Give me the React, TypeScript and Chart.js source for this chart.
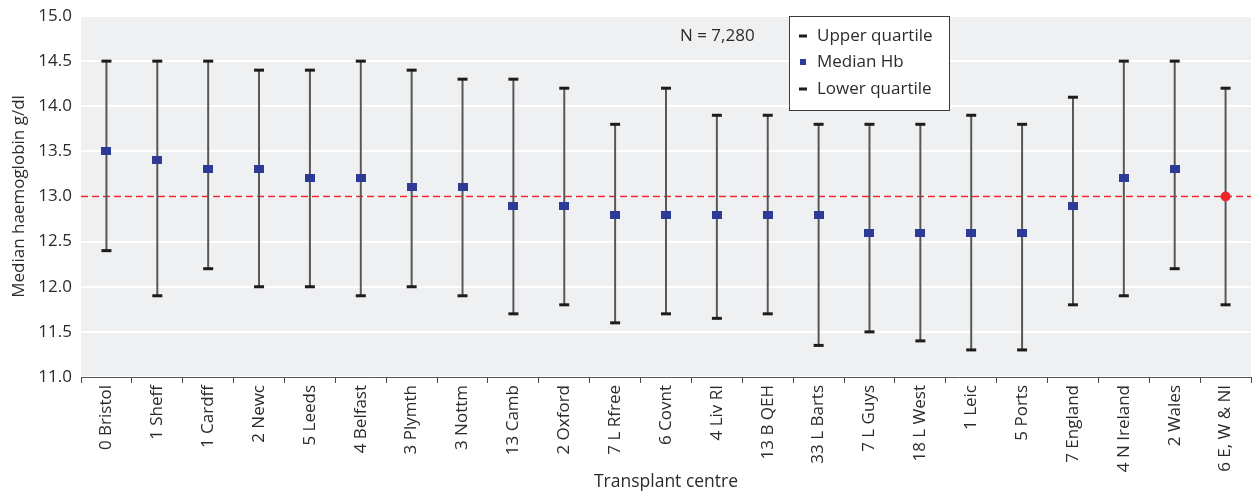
import React, { useEffect, useRef } from "react";
import { Chart, registerables } from "chart.js";

Chart.register(...registerables);

const centres = [
  "0 Bristol", "1 Sheff", "1 Cardff", "2 Newc", "5 Leeds", "4 Belfast", "3 Plymth", "3 Nottm",
  "13 Camb", "2 Oxford", "7 L Rfree", "6 Covnt", "4 Liv RI", "13 B QEH", "33 L Barts", "7 L Guys",
  "18 L West", "1 Leic", "5 Ports", "7 England", "4 N Ireland", "2 Wales", "6 E, W & NI",
];
const upperQuartile = [
  14.5, 14.5, 14.5, 14.4, 14.4, 14.5, 14.4, 14.3, 14.3, 14.2, 13.8, 14.2, 13.9, 13.9, 13.8, 13.8,
  13.8, 13.9, 13.8, 14.1, 14.5, 14.5, 14.2,
];
const medianHb = [
  13.5, 13.4, 13.3, 13.3, 13.2, 13.2, 13.1, 13.1, 12.9, 12.9, 12.8, 12.8, 12.8, 12.8, 12.8, 12.6,
  12.6, 12.6, 12.6, 12.9, 13.2, 13.3, 13.0,
];
const lowerQuartile = [
  12.4, 11.9, 12.2, 12.0, 12.0, 11.9, 12.0, 11.9, 11.7, 11.8, 11.6, 11.7, 11.65, 11.7, 11.35, 11.5,
  11.4, 11.3, 11.3, 11.8, 11.9, 12.2, 11.8,
];
const referenceHb = 13.0;
const yTicks = [11.0, 11.5, 12.0, 12.5, 13.0, 13.5, 14.0, 14.5, 15.0];
const nLabel = "N = 7,280";
const legendLabels = ["Upper quartile", "Median Hb", "Lower quartile"];

const FONT = "'Open Sans', 'DejaVu Sans', sans-serif";
const TEXT = "#2b2b2b";
const BLUE = "#2e3b96";
const RED = "#f0222a";
const CAP = "#1c1c1c";

export default function App() {
  const ref = useRef<HTMLCanvasElement | null>(null);

  useEffect(() => {
    const canvas = ref.current;
    if (!canvas) return;

    const marker = document.createElement("canvas");
    marker.width = 10;
    marker.height = 8;
    const mctx = marker.getContext("2d")!;
    mctx.fillStyle = BLUE;
    mctx.fillRect(0, 0, 10, 8);

    const last = centres.length - 1;
    const medianMain = medianHb.map((v, i) => (i === last ? null : v));
    const medianTotal = medianHb.map((v, i) => (i === last ? v : null));
    const ranges = centres.map((_, i) => [lowerQuartile[i], upperQuartile[i]]);

    const bgPlugin = {
      id: "bg",
      beforeDraw(chart: any) {
        const { ctx, chartArea } = chart;
        ctx.save();
        ctx.fillStyle = "#eff0f2";
        ctx.fillRect(chartArea.left, chartArea.top, chartArea.right - chartArea.left, chartArea.bottom - chartArea.top);
        ctx.restore();
      },
      beforeDatasetsDraw(chart: any) {
        const { ctx, chartArea, scales } = chart;
        const y = scales.y.getPixelForValue(referenceHb);
        ctx.save();
        ctx.strokeStyle = RED;
        ctx.lineWidth = 1.5;
        ctx.setLineDash([7, 4]);
        ctx.beginPath();
        ctx.moveTo(chartArea.left, y);
        ctx.lineTo(chartArea.right, y);
        ctx.stroke();
        ctx.restore();
      },
      afterDraw(chart: any) {
        const { ctx } = chart;
        ctx.save();
        ctx.font = `17px ${FONT}`;
        ctx.fillStyle = TEXT;
        ctx.textBaseline = "middle";
        ctx.textAlign = "left";
        ctx.fillText(nLabel, 680, 36);
        // legend box
        const bx = 789.5, by = 16.5, bw = 160, bh = 94;
        ctx.fillStyle = "#ffffff";
        ctx.fillRect(bx, by, bw, bh);
        ctx.strokeStyle = "#3a3a3a";
        ctx.lineWidth = 1;
        ctx.strokeRect(bx, by, bw, bh);
        const rows = [36, 62, 89];
        rows.forEach((ry, i) => {
          if (i === 1) {
            ctx.fillStyle = BLUE;
            ctx.fillRect(800, ry - 3, 6, 6);
          } else {
            ctx.fillStyle = CAP;
            ctx.fillRect(799, ry - 1.5, 8, 3);
          }
          ctx.fillStyle = TEXT;
          ctx.fillText(legendLabels[i], 817, ry);
        });
        ctx.restore();
      },
    };

    const chart = new Chart(canvas, {
      type: "bar",
      data: {
        labels: centres,
        datasets: [
          {
            type: "bar",
            label: "Interquartile range",
            data: ranges as any,
            backgroundColor: "#555555",
            barThickness: 1.3,
            order: 5,
          },
          {
            type: "line",
            label: legendLabels[0],
            data: upperQuartile,
            showLine: false,
            pointStyle: "line",
            pointRadius: 5,
            pointBorderWidth: 3,
            borderColor: CAP,
            backgroundColor: CAP,
            order: 4,
          },
          {
            type: "line",
            label: legendLabels[2],
            data: lowerQuartile,
            showLine: false,
            pointStyle: "line",
            pointRadius: 5,
            pointBorderWidth: 3,
            borderColor: CAP,
            backgroundColor: CAP,
            order: 3,
          },
          {
            type: "line",
            label: legendLabels[1],
            data: medianMain,
            showLine: false,
            pointStyle: marker as any,
            pointRadius: 5,
            order: 1,
          },
          {
            type: "line",
            label: "Total",
            data: medianTotal,
            showLine: false,
            pointStyle: "circle",
            pointRadius: 5,
            pointBorderWidth: 0,
            backgroundColor: RED,
            borderColor: RED,
            order: 0,
          },
        ],
      },
      options: {
        animation: false,
        responsive: false,
        maintainAspectRatio: false,
        layout: { autoPadding: false, padding: { top: 16, right: 1, left: 0, bottom: 0 } },
        plugins: { legend: { display: false }, tooltip: { enabled: false } },
        scales: {
          x: {
            type: "category",
            offset: true,
            grid: {
              offset: true,
              drawOnChartArea: false,
              drawTicks: true,
              tickLength: 6,
              color: "#444",
            },
            border: { display: true, color: "#555", width: 1 },
            ticks: {
              minRotation: 90,
              maxRotation: 90,
              autoSkip: false,
              padding: 2,
              color: TEXT,
              font: { family: FONT, size: 17 },
            },
            title: {
              display: true,
              text: "Transplant centre",
              color: TEXT,
              font: { family: FONT, size: 17.5 },
              padding: { top: 0, bottom: 1 },
            },
            afterFit(scale: any) {
              scale.height = 117;
              scale.paddingLeft = 0;
              scale.paddingRight = 0;
            },
          },
          y: {
            min: 11,
            max: 15,
            afterBuildTicks(scale: any) {
              scale.ticks = yTicks.map((v) => ({ value: v }));
            },
            grid: { color: "#ffffff", lineWidth: 2, drawTicks: false },
            border: { display: false },
            ticks: {
              padding: 9,
              color: TEXT,
              font: { family: FONT, size: 17 },
              callback: (v: any) => Number(v).toFixed(1),
            },
            title: {
              display: true,
              text: "Median haemoglobin g/dl",
              color: TEXT,
              font: { family: FONT, size: 17 },
              padding: { top: 9, bottom: 0 },
            },
            afterFit(scale: any) {
              scale.width = 81;
              scale.paddingTop = 0;
              scale.paddingBottom = 0;
            },
          },
        },
      },
      plugins: [bgPlugin],
    });

    return () => chart.destroy();
  }, []);

  return (
    <div style={{ position: "absolute", left: 0, top: 0, width: 1252, height: 494, background: "#fff" }}>
      <canvas ref={ref} width={1252} height={494} style={{ width: 1252, height: 494 }} />
    </div>
  );
}
